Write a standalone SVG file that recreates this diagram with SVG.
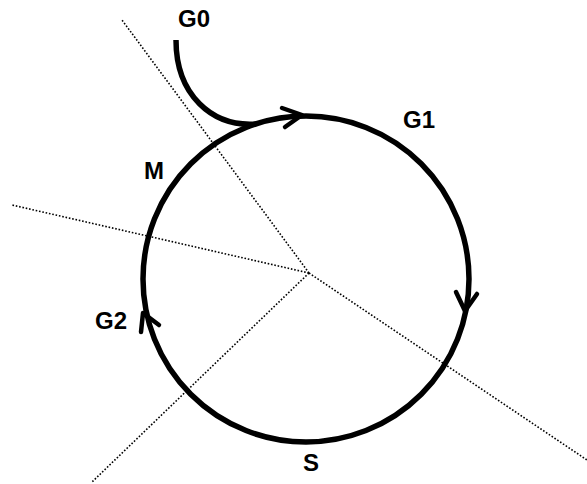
<svg xmlns="http://www.w3.org/2000/svg" width="587" height="484" viewBox="0 0 587 484">
<style>
.dot{stroke:#000;stroke-width:1.6;stroke-dasharray:1.6 1.8;fill:none}
.thick{stroke:#000;stroke-width:5.5;fill:none}
.head{stroke:#000;stroke-width:4.5;fill:none;stroke-linecap:round;stroke-linejoin:round}
.lbl{font-family:"Liberation Sans",Arial,sans-serif;font-weight:bold;font-size:24px;fill:#000}
</style>
<rect width="587" height="484" fill="#fff"/>
<g id="connectors">
<line class="dot" x1="309" y1="273" x2="122" y2="20"/>
<line class="dot" x1="309" y1="273" x2="12" y2="205"/>
<line class="dot" x1="309" y1="273" x2="587" y2="460"/>
<line class="dot" x1="309" y1="273" x2="92" y2="482"/>
<circle class="thick" cx="306" cy="279" r="163"/>
<path class="thick" d="M176 40 C176 95 212 127 256 124"/>
<polyline class="head" points="282,108 302,115 285,127"/>
<polyline class="head" points="456,292 465,311 477,294"/>
<polyline class="head" points="141,332 143,313 159,325"/>
</g>
<g id="G0"><text class="lbl" x="178" y="27">G0</text></g>
<g id="G1"><text class="lbl" x="403" y="128">G1</text></g>
<g id="M"><text class="lbl" x="144" y="179">M</text></g>
<g id="G2"><text class="lbl" x="95" y="329">G2</text></g>
<g id="S"><text class="lbl" x="303" y="471">S</text></g>
</svg>
